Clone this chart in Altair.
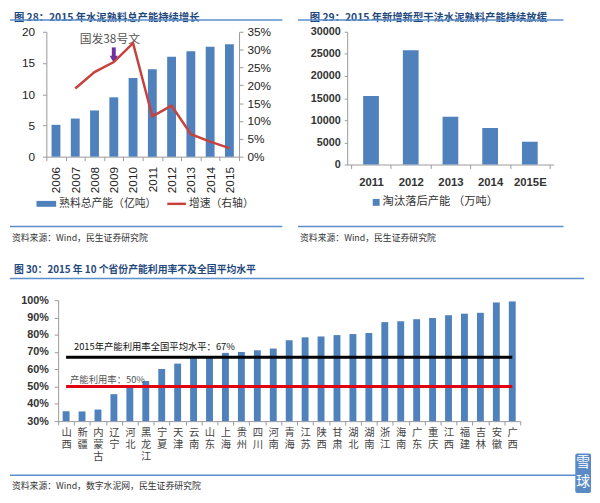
import altair as alt
import pandas as pd

# ---------------- data ----------------
years = ["2006", "2007", "2008", "2009", "2010", "2011", "2012", "2013", "2014", "2015"]
capacity = [5.1, 6.1, 7.4, 9.5, 12.6, 14.0, 16.0, 16.9, 17.6, 18.0]
growth_years = ["2007", "2008", "2009", "2010", "2011", "2012", "2013", "2014", "2015"]
growth = [0.191, 0.237, 0.265, 0.318, 0.113, 0.143, 0.063, 0.042, 0.024]

elim_years = ["2011", "2012", "2013", "2014", "2015E"]
elim = [15500, 25800, 10800, 8250, 5150]

provinces = ["山西", "新疆", "内蒙古", "辽宁", "河北", "黑龙江", "宁夏", "天津", "云南", "山东",
             "上海", "贵州", "四川", "河南", "青海", "江苏", "陕西", "甘肃", "湖北", "湖南",
             "浙江", "海南", "广东", "重庆", "江西", "福建", "吉林", "安徽", "广西"]
util = [0.357, 0.356, 0.367, 0.456, 0.497, 0.532, 0.602, 0.633, 0.665, 0.668,
        0.695, 0.700, 0.710, 0.720, 0.768, 0.785, 0.790, 0.798, 0.804, 0.810,
        0.873, 0.878, 0.890, 0.897, 0.913, 0.922, 0.927, 0.987, 0.993]
national_avg = 0.67
threshold = 0.50

title28 = "图 28：2015 年水泥熟料总产能持续增长"
title29 = "图 29：2015 年新增新型干法水泥熟料产能持续放缓"
title30 = "图 30：2015 年 10 个省份产能利用率不及全国平均水平"
src_a = "资料来源：Wind，民生证券研究院"
src_b = "资料来源：Wind，数字水泥网，民生证券研究院"
leg28_bar = "熟料总产能（亿吨）"
leg28_line = "增速（右轴）"
leg29 = "淘汰落后产能 （万吨）"
avg_text = "2015年产能利用率全国平均水平：67%"
thr_text = "产能利用率：50%"

# ---------------- style ----------------
CJK = "Noto Sans CJK SC"
NUM = "Liberation Sans"
BAR = "#4F81BD"
RED28 = "#C8413C"
SEP = "#5B8FCB"
TITLE_C = "#1F497D"
AX = "#999999"

one = pd.DataFrame({"k": [0]})


def deco_text(txt, x, y, size=9, color="#333333", weight="normal", font=CJK,
              align="left", baseline="middle"):
    return alt.Chart(one).mark_text(text=txt, font=font, fontSize=size, color=color,
                                    fontWeight=weight, align=align, baseline=baseline).encode(
        x=alt.value(x), y=alt.value(y))


def deco_rule(x1, x2, y, color=SEP, w=1.6):
    return alt.Chart(one).mark_rule(color=color, strokeWidth=w).encode(
        x=alt.value(x1), x2=alt.value(x2), y=alt.value(y))


def deco_rect(x1, x2, y1, y2, color):
    return alt.Chart(one).mark_rect(color=color).encode(
        x=alt.value(x1), x2=alt.value(x2), y=alt.value(y1), y2=alt.value(y2))


# ---------------- chart 28 ----------------
df28 = pd.DataFrame({"year": years, "capacity": capacity})
dfg = pd.DataFrame({"year": growth_years, "growth": growth})
ann = pd.DataFrame({"year": ["2009"], "label": ["国发38号文"], "ty": [18.8], "a1": [17.5], "a2": [15.6]})

x28_scale = alt.Scale(domain=years, paddingInner=0, paddingOuter=0)
x28_axis = alt.Axis(title=None, labelAngle=270, labelFont=NUM, labelFontSize=12,
                    labelColor="#222222", domainColor=AX, tickColor=AX,
                    tickBand="extent", tickSize=4, labelPadding=6)
y28_scale = alt.Scale(domain=[0, 20])
y28_axis = alt.Axis(title=None, values=[0, 5, 10, 15, 20], grid=False, labelFont=NUM,
                    labelFontSize=12, labelColor="#222222", domainColor=AX,
                    tickColor=AX, tickSize=4, labelPadding=8, labelOverlap=False)


def x28(): return alt.X("year:N", sort=years, scale=x28_scale, axis=x28_axis)


def y28(f): return alt.Y(f, scale=y28_scale, axis=y28_axis)


bars28 = alt.Chart(df28).mark_bar(size=9, color=BAR).encode(x=x28(), y=y28("capacity:Q"))
ann_text = alt.Chart(ann).mark_text(font=CJK, fontSize=12, color="#555555", dx=-4).encode(
    x=x28(), y=y28("ty:Q"), text="label:N")
arrow = alt.Chart(ann).mark_rule(color="#7030A0", strokeWidth=4).encode(
    x=x28(), y=y28("a1:Q"), y2="a2:Q")
arrow_head = alt.Chart(ann).mark_point(shape="triangle-down", filled=True, size=70,
                                       color="#7030A0", opacity=1).encode(
    x=x28(), y=y28("a2:Q"))

line28 = alt.Chart(dfg).mark_line(strokeWidth=2.5, color=RED28).encode(
    x=x28(),
    y=alt.Y("growth:Q", scale=alt.Scale(domain=[0, 0.35]),
            axis=alt.Axis(title=None, orient="right", format=".0%", grid=False,
                          values=[0, 0.05, 0.1, 0.15, 0.2, 0.25, 0.3, 0.35], labelFont=NUM,
                          labelFontSize=12, labelColor="#222222", domainColor=AX,
                          tickColor=AX, tickSize=4, labelPadding=4, labelOverlap=False)))

c28 = alt.layer(
    alt.layer(bars28, ann_text, arrow, arrow_head,
              deco_text(title28, -33, -19, size=10.5, color=TITLE_C, weight="bold",
                        baseline="top"),
              deco_rule(-37, 240, -12),
              deco_rect(-10, 10, 172, 178, BAR),
              deco_text(leg28_bar, 13, 175, size=11),
              deco_rule(123, 142, 175, color=RED28, w=2.5),
              deco_text(leg28_line, 145, 175, size=11),
              deco_rule(-37, 240, 198),
              deco_text(src_a, -35, 210)),
    line28
).resolve_scale(y="independent").properties(width=196, height=127)

# ---------------- chart 29 ----------------
df29 = pd.DataFrame({"year": elim_years, "v": elim})

bars29 = alt.Chart(df29).mark_bar(size=16, color=BAR).encode(
    x=alt.X("year:N", sort=elim_years,
            scale=alt.Scale(domain=elim_years, paddingInner=0, paddingOuter=0.1),
            axis=alt.Axis(title=None, labelAngle=0, labelFont=NUM, labelFontSize=11.5,
                          labelFontWeight="bold", labelColor="#333333", domainColor=AX,
                          tickColor=AX, tickBand="extent", tickSize=4, labelPadding=8)),
    y=alt.Y("v:Q", scale=alt.Scale(domain=[0, 30000]),
            axis=alt.Axis(title=None, values=[0, 5000, 10000, 15000, 20000, 25000, 30000],
                          format="d", grid=False, labelFont=NUM, labelFontSize=11,
                          labelFontWeight="bold", labelColor="#333333", domainColor=AX,
                          tickColor=AX, tickSize=3, labelPadding=4, labelOverlap=False)))

c29 = alt.layer(
    bars29,
    deco_text(title29, -38, -19, size=10.5, color=TITLE_C, weight="bold", baseline="top"),
    deco_rule(-50, 220, -12),
    deco_rect(26, 33, 170, 177, BAR),
    deco_text(leg29, 36, 173.5, size=11.5),
    deco_rule(-50, 220, 198),
    deco_text(src_a, -48, 210),
).properties(width=210, height=135)

# ---------------- chart 30 ----------------
df30 = pd.DataFrame({"province": provinces, "util": util,
                     "avg": [national_avg] * len(provinces),
                     "thr": [threshold] * len(provinces)})
lbl_avg = pd.DataFrame({"province": [provinces[0]], "t": [avg_text], "y": [national_avg]})
lbl_thr = pd.DataFrame({"province": [provinces[0]], "t": [thr_text], "y": [threshold]})

x30_scale = alt.Scale(domain=provinces, paddingInner=0, paddingOuter=0)
x30_axis = alt.Axis(title=None, labelAngle=0, labelExpr="split(datum.label, '')",
                    labelFont=CJK, labelFontSize=10.5, labelLineHeight=12,
                    labelBaseline="top", labelColor="#444444", domainColor=AX,
                    tickColor=AX, tickBand="extent", tickSize=4, labelPadding=3)
y30_scale = alt.Scale(domain=[0.3, 1.0], zero=False)
y30_axis = alt.Axis(title=None, format=".0%", grid=False,
                    values=[0.3, 0.4, 0.5, 0.6, 0.7, 0.8, 0.9, 1.0], labelFont=NUM,
                    labelFontSize=11, labelFontWeight="bold", labelColor="#333333",
                    domainColor=AX, tickColor=AX, tickSize=4, labelPadding=6,
                    labelOverlap=False)


def x30(): return alt.X("province:N", sort=provinces, scale=x30_scale, axis=x30_axis)


def y30(f): return alt.Y(f, scale=y30_scale, axis=y30_axis)


bars30 = alt.Chart(df30).mark_bar(size=7, color=BAR).encode(
    x=x30(), y=y30("util:Q"), y2=alt.datum(0.3))
avg_line = alt.Chart(df30).mark_line(color="#000000", strokeWidth=3).encode(
    x=x30(), y=y30("avg:Q"))
thr_line = alt.Chart(df30).mark_line(color="#E0000F", strokeWidth=3).encode(
    x=x30(), y=y30("thr:Q"))
avg_lbl = alt.Chart(lbl_avg).mark_text(
    font=CJK, fontSize=9.5, color="#111111", align="left", dx=8, dy=-10).encode(
    x=x30(), y=y30("y:Q"), text="t:N")
thr_lbl = alt.Chart(lbl_thr).mark_text(
    font=CJK, fontSize=9.5, color="#555555", align="left", dx=4, dy=-7).encode(
    x=x30(), y=y30("y:Q"), text="t:N")

wm_box = alt.Chart(one).mark_rect(color="#5A8AC6", cornerRadius=2).encode(
    x=alt.value(526), x2=alt.value(542), y=alt.value(156), y2=alt.value(196))

c30 = alt.layer(
    bars30, avg_line, thr_line, avg_lbl, thr_lbl,
    deco_text(title30, -45, -31, size=10, color=TITLE_C, weight="bold"),
    deco_rule(-49, 535, -22),
    deco_rule(-49, 528, 178),
    deco_text(src_b, -47, 189),
    wm_box,
    deco_text("雪", 534, 166, size=14, color="#FFFFFF", align="center"),
    deco_text("球", 534, 185, size=14, color="#FFFFFF", align="center"),
).properties(width=470, height=123)

spacer = alt.Chart(one).mark_point(opacity=0).encode(
    x=alt.value(0), y=alt.value(0)).properties(width=12, height=10)

top = alt.hconcat(c28, c29, spacing=110, bounds="flush")
bottom = alt.hconcat(spacer, c30, spacing=0, bounds="flush")

chart = alt.vconcat(top, bottom, spacing=273, bounds="flush").properties(
    padding=0
).configure_view(stroke="transparent")

chart.save("out.html", embed_options={"renderer": "svg", "actions": False})
